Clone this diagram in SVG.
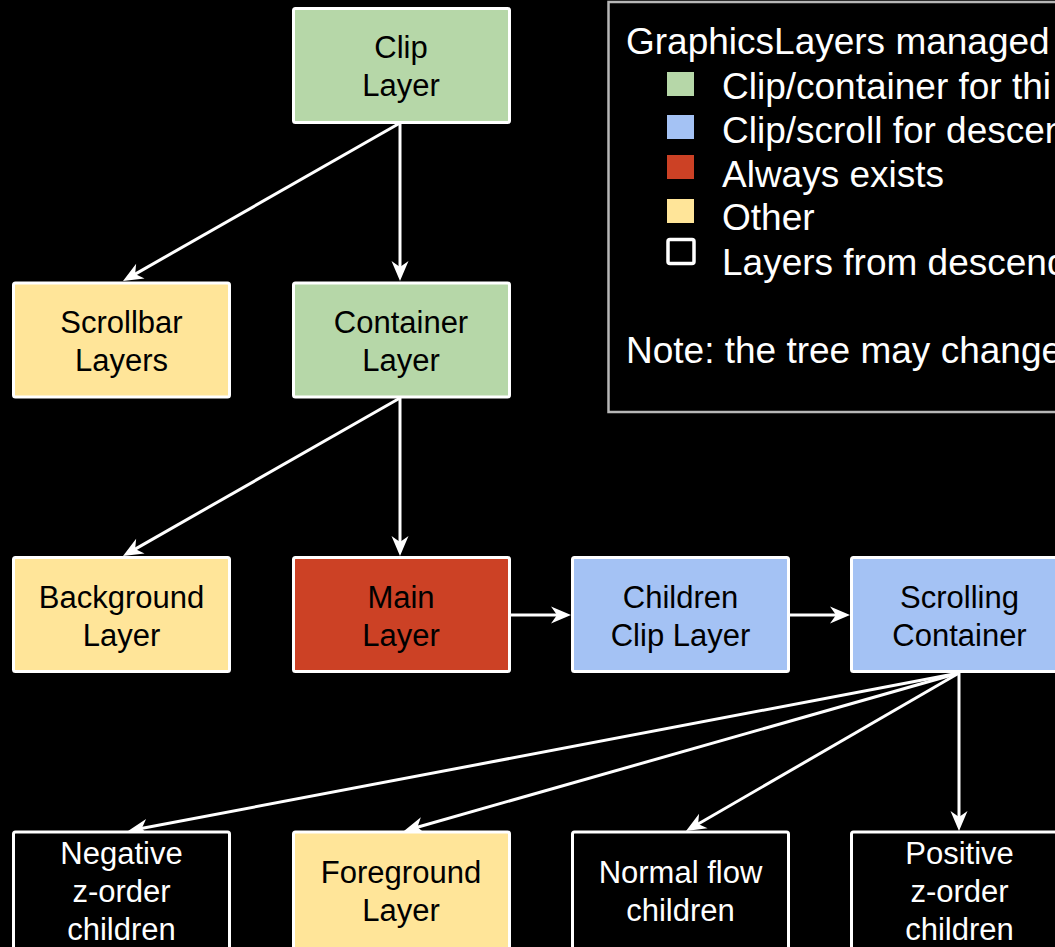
<svg xmlns="http://www.w3.org/2000/svg" width="1055" height="947" viewBox="0 0 1055 947">
  <style>
    .node rect { stroke: #ffffff; stroke-width: 3; }
    .green { fill: #b6d7a8; }
    .blue { fill: #a4c2f4; }
    .red { fill: #cc4125; }
    .yellow { fill: #ffe599; }
    .hollow { fill: #000000; }
    .label { font-family: "Liberation Sans", Arial, sans-serif; font-size: 31px; text-anchor: middle; fill: #000000; }
    .label.light { fill: #ffffff; }
    .legend-text { font-family: "Liberation Sans", Arial, sans-serif; font-size: 37px; fill: #ffffff; }
    .edge { stroke: #ffffff; stroke-width: 3; fill: none; marker-end: url(#arrow); }
  </style>
  <defs>
    <marker id="arrow" markerUnits="userSpaceOnUse" viewBox="-10 -10 24 20" markerWidth="24" markerHeight="20" refX="0" refY="0" orient="auto" overflow="visible">
      <path d="M12,0 L-8,-8.5 L-2,0 L-8,8.5 Z" fill="#ffffff"/>
    </marker>
  </defs>

  <rect x="0" y="0" width="1055" height="947" fill="#000000"/>

  <!-- legend -->
  <g id="legend">
    <rect x="608.5" y="2" width="470" height="410" fill="none" stroke="#b7b7b7" stroke-width="2.5"/>
    <text class="legend-text" x="626" y="54">GraphicsLayers managed</text>
    <rect class="green" x="667" y="72" width="27" height="24"/>
    <text class="legend-text" x="722" y="99">Clip/container for thi</text>
    <rect class="blue" x="667" y="115" width="27" height="24"/>
    <text class="legend-text" x="722" y="143">Clip/scroll for descen</text>
    <rect class="red" x="667" y="155" width="27" height="24"/>
    <text class="legend-text" x="722" y="187">Always exists</text>
    <rect class="yellow" x="667" y="199" width="27" height="24"/>
    <text class="legend-text" x="722" y="230">Other</text>
    <rect x="668" y="239.5" width="26" height="24" rx="2" fill="none" stroke="#ffffff" stroke-width="3.5"/>
    <text class="legend-text" x="722" y="275">Layers from descend</text>
    <text class="legend-text" x="626" y="363">Note: the tree may change</text>
  </g>

  <!-- connectors -->
  <g id="connectors">
    <line class="edge" x1="400" y1="123" x2="133.4" y2="275.1"/>
    <line class="edge" x1="400" y1="123" x2="400" y2="269"/>
    <line class="edge" x1="400" y1="398" x2="133.4" y2="550.1"/>
    <line class="edge" x1="400" y1="398" x2="400" y2="544"/>
    <line class="edge" x1="509" y1="615" x2="559" y2="615"/>
    <line class="edge" x1="789" y1="615" x2="838" y2="615"/>
    <line class="edge" x1="959" y1="673" x2="139.8" y2="828.8"/>
    <line class="edge" x1="959" y1="673" x2="415.5" y2="827.7"/>
    <line class="edge" x1="959" y1="673" x2="696.4" y2="825"/>
    <line class="edge" x1="959" y1="673" x2="959" y2="819"/>
  </g>

  <!-- row 1 -->
  <g id="clip-layer" class="node">
    <rect class="green" x="293.5" y="8.5" width="216" height="114" rx="2"/>
    <text class="label" x="401" y="58">Clip</text>
    <text class="label" x="401" y="96">Layer</text>
  </g>

  <!-- row 2 -->
  <g id="scrollbar-layers" class="node">
    <rect class="yellow" x="13.5" y="283" width="216" height="114" rx="2"/>
    <text class="label" x="121.5" y="333">Scrollbar</text>
    <text class="label" x="121.5" y="371">Layers</text>
  </g>
  <g id="container-layer" class="node">
    <rect class="green" x="293.5" y="283" width="216" height="114" rx="2"/>
    <text class="label" x="401" y="333">Container</text>
    <text class="label" x="401" y="371">Layer</text>
  </g>

  <!-- row 3 -->
  <g id="background-layer" class="node">
    <rect class="yellow" x="13.5" y="557.5" width="216" height="114" rx="2"/>
    <text class="label" x="121.5" y="608">Background</text>
    <text class="label" x="121.5" y="646">Layer</text>
  </g>
  <g id="main-layer" class="node">
    <rect class="red" x="293.5" y="557.5" width="216" height="114" rx="2"/>
    <text class="label" x="401" y="608">Main</text>
    <text class="label" x="401" y="646">Layer</text>
  </g>
  <g id="children-clip-layer" class="node">
    <rect class="blue" x="572.5" y="557.5" width="216" height="114" rx="2"/>
    <text class="label" x="680.5" y="608">Children</text>
    <text class="label" x="680.5" y="646">Clip Layer</text>
  </g>
  <g id="scrolling-container" class="node">
    <rect class="blue" x="851.5" y="557.5" width="216" height="114" rx="2"/>
    <text class="label" x="959.5" y="608">Scrolling</text>
    <text class="label" x="959.5" y="646">Container</text>
  </g>

  <!-- row 4 -->
  <g id="negative-zorder-children" class="node">
    <rect class="hollow" x="13.5" y="832" width="216" height="118" rx="2"/>
    <text class="label light" x="121.5" y="864">Negative</text>
    <text class="label light" x="121.5" y="902">z-order</text>
    <text class="label light" x="121.5" y="940">children</text>
  </g>
  <g id="foreground-layer" class="node">
    <rect class="yellow" x="293.5" y="832" width="216" height="118" rx="2"/>
    <text class="label" x="401" y="883">Foreground</text>
    <text class="label" x="401" y="921">Layer</text>
  </g>
  <g id="normal-flow-children" class="node">
    <rect class="hollow" x="572.5" y="832" width="216" height="118" rx="2"/>
    <text class="label light" x="680.5" y="883">Normal flow</text>
    <text class="label light" x="680.5" y="921">children</text>
  </g>
  <g id="positive-zorder-children" class="node">
    <rect class="hollow" x="851.5" y="832" width="216" height="118" rx="2"/>
    <text class="label light" x="959.5" y="864">Positive</text>
    <text class="label light" x="959.5" y="902">z-order</text>
    <text class="label light" x="959.5" y="940">children</text>
  </g>
</svg>
